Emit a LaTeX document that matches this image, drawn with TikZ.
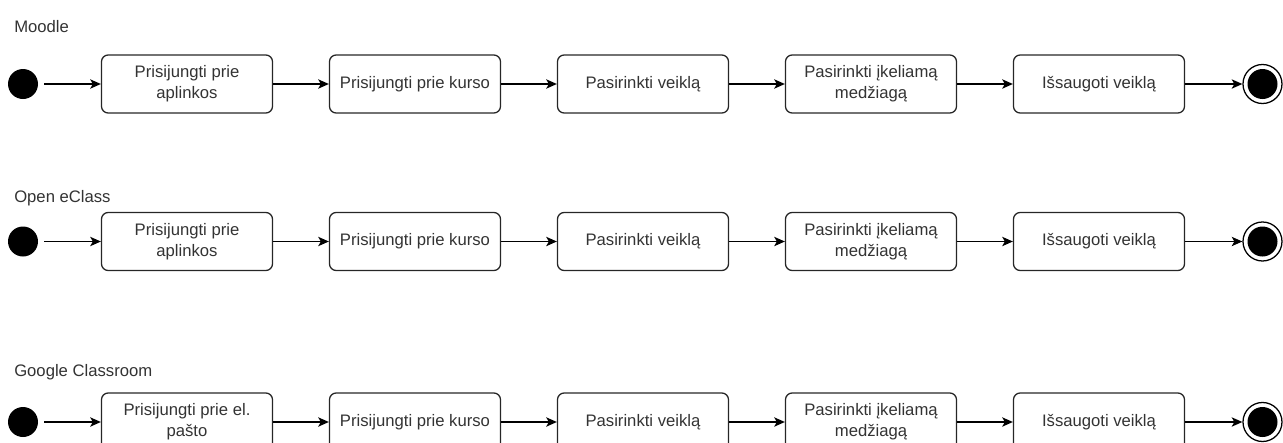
\documentclass[tikz,border=0pt]{standalone}
\usepackage{fontspec}
\setmainfont{Liberation Sans}
\usetikzlibrary{arrows.meta}
\definecolor{txt}{HTML}{333333}
\begin{document}
\begin{tikzpicture}[x=0.75pt,y=-0.75pt,
  act/.style={draw=black!85, line width=0.95pt, rounded corners=5pt, minimum width=128.25pt, minimum height=43.5pt, inner sep=0pt, align=center, font=\fontsize{12.5}{15.5}\selectfont, text=txt},
  startst/.style={circle, fill=black, minimum size=22.5pt, inner sep=0pt},
  endst/.style={circle, draw=black, line width=0.95pt, fill=white, minimum size=29.25pt, inner sep=0pt},
  flow/.style={-{Stealth[length=8pt,width=7pt,inset=2pt]}, line width=0.95pt},
  lane/.style={anchor=west, font=\fontsize{12.5}{15}\selectfont, text=txt, inner sep=0pt}]
\useasboundingbox (0,0) rectangle (1283,443);
\foreach \r/\y/\ly/\lname/\ftxt in {1/84/27/Moodle/{Prisijungti prie\\aplinkos}, 2/241.5/198/Open eClass/{Prisijungti prie\\aplinkos}, 3/422/372/Google Classroom/{Prisijungti prie el.\\pašto}} {
  \node[lane] (lane\r) at (14,\ly) {\lname};
  \node[startst] (s\r) at (23,\y) {};
  \node[act] (a\r) at (187,\y) {\ftxt};
  \node[act] (b\r) at (415,\y) {Prisijungti prie kurso};
  \node[act] (c\r) at (643,\y) {Pasirinkti veiklą};
  \node[act] (d\r) at (871,\y) {Pasirinkti įkeliamą\\medžiagą};
  \node[act] (f\r) at (1099,\y) {Išsaugoti veiklą};
  \node[endst] (e\r) at (1262.5,\y) {};
  \node[startst] (ei\r) at (e\r) {};
  \draw[flow, shorten <=4.5pt] (s\r) -- (a\r);
  \draw[flow] (a\r) -- (b\r);
  \draw[flow] (b\r) -- (c\r);
  \draw[flow] (c\r) -- (d\r);
  \draw[flow] (d\r) -- (f\r);
  \draw[flow] (f\r) -- (e\r);
}
\end{tikzpicture}
\end{document}
